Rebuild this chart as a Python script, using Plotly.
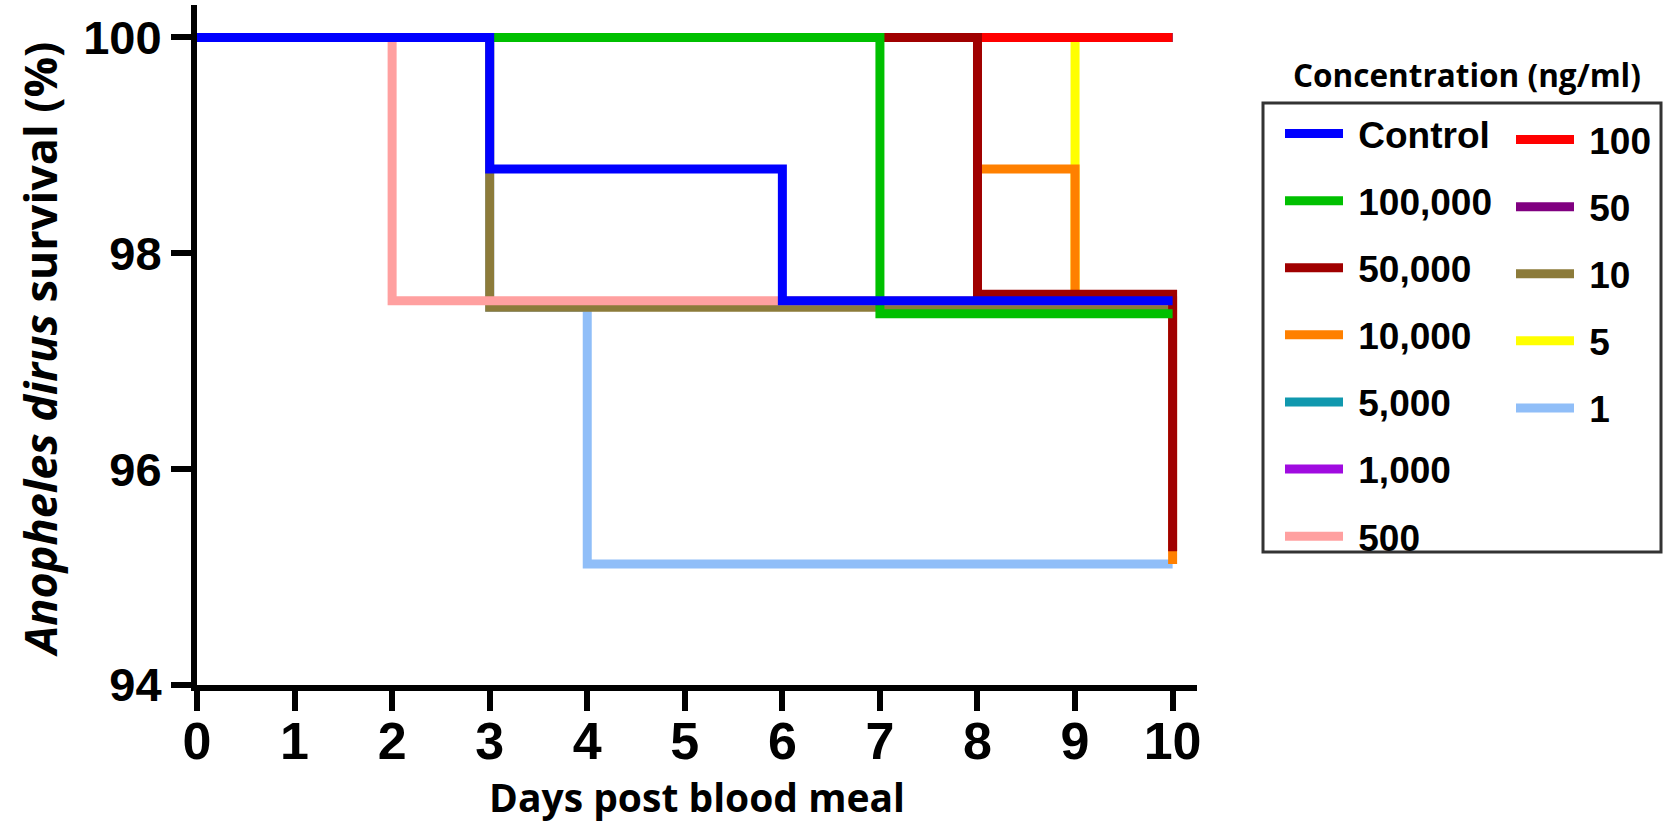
import plotly.graph_objects as go

# ---- data (survival %, Kaplan-Meier style steps) ----
days_control = [0, 3, 6, 10]
surv_control = [100, 98.78, 97.56, 97.56]
days_100000 = [0, 7, 10]
surv_100000 = [100, 97.44, 97.44]
days_50000 = [0, 8, 10]
surv_50000 = [100, 97.62, 95.24]
days_10000 = [0, 8, 9, 10]
surv_10000 = [100, 98.78, 97.56, 95.12]
days_5000 = [0, 10]
surv_5000 = [100, 100]
days_1000 = [0, 10]
surv_1000 = [100, 100]
days_500 = [0, 2, 10]
surv_500 = [100, 97.56, 97.56]
days_100 = [0, 10]
surv_100 = [100, 100]
days_50 = [0, 10]
surv_50 = [100, 100]
days_10 = [0, 3, 10]
surv_10 = [100, 97.5, 97.5]
days_5 = [0, 9, 10]
surv_5 = [100, 97.5, 97.5]
days_1 = [0, 3, 4, 10]
surv_1 = [100, 97.5, 95.12, 95.12]

x_ticks = [0, 1, 2, 3, 4, 5, 6, 7, 8, 9, 10]
y_ticks = [94, 96, 98, 100]

# (name, x, y, color, legend, rank) in drawing order bottom -> top
series = [
    ("50", days_50, surv_50, "#800080", "legend2", 2),
    ("1,000", days_1000, surv_1000, "#A00BE0", "legend", 6),
    ("5,000", days_5000, surv_5000, "#1098AE", "legend", 5),
    ("1", days_1, surv_1, "#90BEF8", "legend2", 5),
    ("5", days_5, surv_5, "#FFFF00", "legend2", 4),
    ("100", days_100, surv_100, "#FF0000", "legend2", 1),
    ("10", days_10, surv_10, "#8C7B3A", "legend2", 3),
    ("500", days_500, surv_500, "#FFA0A0", "legend", 7),
    ("10,000", days_10000, surv_10000, "#FF8000", "legend", 4),
    ("50,000", days_50000, surv_50000, "#A00000", "legend", 3),
    ("100,000", days_100000, surv_100000, "#00C000", "legend", 2),
    ("Control", days_control, surv_control, "#0000FF", "legend", 1),
]

fig = go.Figure()
for name, xs, ys, col, lg, rank in series:
    fig.add_trace(go.Scatter(
        x=xs, y=ys, mode="lines", name="\u00a0" + name,
        line=dict(color=col, width=9, shape="hv"),
        legend=lg, legendrank=rank, legendgroup=name,
    ))

W, H = 1664, 825
ml, mr, mt, mb = 197, 467, 5, 140

def cx(p):
    return p / W

def cy(p):
    return 1 - p / H

legend_font = dict(family="Liberation Sans, Arial, sans-serif", size=37, color="black", weight="bold")
leg_common = dict(xanchor="left", yanchor="top", xref="container", yref="container",
                  font=legend_font, bgcolor="rgba(0,0,0,0)", borderwidth=0,
                  traceorder="grouped", tracegroupgap=16, itemwidth=58, maxheight=760)
fig.update_layout(
    width=W, height=H,
    margin=dict(l=ml, r=mr, t=mt, b=mb, autoexpand=False),
    plot_bgcolor="white", paper_bgcolor="white",
    showlegend=True,
    legend=dict(x=cx(1280), y=cy(103), **leg_common),
    legend2=dict(x=cx(1511), y=cy(109), **leg_common),
    xaxis=dict(range=[0, 10.25], tickvals=x_ticks, ticktext=[str(v) for v in x_ticks],
               showgrid=False, zeroline=False, showline=True, linecolor="black", linewidth=6,
               ticks="outside", ticklen=20, tickwidth=6, tickcolor="black",
               ticklabelstandoff=-14,
               tickfont=dict(family="Liberation Sans, Arial, sans-serif",
                             size=52, color="black", weight="bold"),
               title=dict(text="Days post blood meal", standoff=12,
                          font=dict(family="Open Sans, sans-serif", size=39, color="black", weight="bold"))),
    yaxis=dict(range=[94, 100.3], tickvals=y_ticks, ticktext=[str(v) for v in y_ticks],
               showgrid=False, zeroline=False, showline=True, linecolor="black", linewidth=6,
               ticks="outside", ticklen=20, tickwidth=6, tickcolor="black",
               ticklabelstandoff=0,
               tickfont=dict(family="Liberation Sans, Arial, sans-serif", size=47, color="black", weight="bold")),
    shapes=[dict(type="rect", xref="paper", yref="paper",
                 x0=(1263 - ml) / (W - ml - mr), x1=(1661 - ml) / (W - ml - mr),
                 y0=(H - mb - 552) / (H - mt - mb), y1=(H - mb - 103) / (H - mt - mb),
                 line=dict(color="#333333", width=3), fillcolor="rgba(0,0,0,0)")],
    annotations=[
        dict(text="Concentration (ng/ml)", xref="paper", yref="paper",
             x=(1467 - ml) / (W - ml - mr), y=(H - mb - 75) / (H - mt - mb),
             xanchor="center", yanchor="middle", showarrow=False,
             font=dict(family="Open Sans, sans-serif", size=31.5, color="black", weight="bold")),
        dict(text="<i>Anopheles dirus</i> survival (%)", xref="paper", yref="paper",
             x=(39 - ml) / (W - ml - mr), y=(H - mb - 350) / (H - mt - mb),
             xanchor="center", yanchor="middle", textangle=-90, showarrow=False,
             font=dict(family="Open Sans, sans-serif", size=45, color="black", weight="bold")),
    ],
)

fig.write_html("out.html", config={"displayModeBar": False},
               post_script="document.body.style.margin='0';document.body.style.overflow='hidden';")
